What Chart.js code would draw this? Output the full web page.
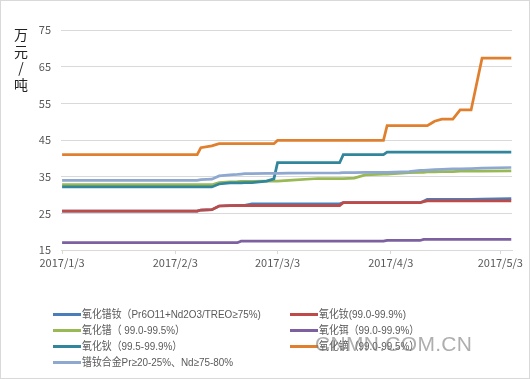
<!DOCTYPE html>
<html>
<head>
<meta charset="utf-8">
<script src="https://cdn.jsdelivr.net/npm/chart.js@4/dist/chart.umd.min.js"></script>
<style>
  html, body { margin: 0; padding: 0; background: #fff; }
  #wrap { position: relative; width: 530px; height: 379px; box-sizing: border-box; border: 1px solid #d9d9d9; overflow: hidden; font-family: "Noto Sans CJK SC", "Noto Sans", sans-serif; }
  #c { position: absolute; left: -1px; top: -1px; }
  #ytitle { position: absolute; left: 11px; top: 25px; width: 18px; font-size: 14px; line-height: 16.5px; color: #222; text-align: center; }
  #legend { position: absolute; left: 0; top: 0; width: 530px; height: 379px; pointer-events: none; }
  .li { position: absolute; height: 16px; font-family: "Liberation Sans", "Noto Sans CJK SC", sans-serif; font-size: 11px; line-height: 16px; color: #595959; white-space: nowrap; }
  .li span.sw { display: inline-block; width: 28px; height: 3px; vertical-align: middle; margin-right: 1px; position: relative; top: -1px; }
  .li span.tx { display: inline-block; transform: scaleX(0.9); transform-origin: 0 50%; }
  #wm { position: absolute; left: 314px; top: 331px; font-family: "Liberation Sans", Arial, sans-serif; font-size: 21px; color: rgba(120,120,120,0.6); letter-spacing: 0.3px; }
</style>
</head>
<body>
<div id="wrap">
  <canvas id="c" width="530" height="379"></canvas>
  <div id="ytitle">万<br>元<br>/<br>吨</div>
  <div id="legend"></div>
  <div id="wm">CNMN.COM.CN</div>
</div>
<script>
// Day offsets from 2017/1/3
const days = [0,37,38,41,43,46,48,49,50,52,56,58,59,62,70,76,77,80,83,88,89,95,98,99,100,101,102,104,107,109,112,115,123];

const tickDays = [0, 31, 59, 90, 120];
const tickLabels = ["2017/1/3", "2017/2/3", "2017/3/3", "2017/4/3", "2017/5/3"];

const seriesNames = [
  "氧化镨钕（Pr6O11+Nd2O3/TREO≥75%)",
  "氧化钕(99.0-99.9%)",
  "氧化镨（ 99.0-99.5%）",
  "氧化铒（99.0-99.9%）",
  "氧化钬（99.5-99.9%）",
  "氧化镝（99.0-99.5%）",
  "镨钕合金Pr≥20-25%、Nd≥75-80%"
];
const seriesColors = ["#4a7ebb", "#be4b48", "#98b954", "#7d60a0", "#31869b", "#e0802f", "#8fa8d0"];

const prNdOxide = [25.6,25.6,25.9,26.0,27.0,27.1,27.2,27.2,27.2,27.6,27.6,27.6,27.6,27.6,27.6,27.6,27.9,27.9,27.9,27.9,27.9,27.9,27.9,28.3,28.8,28.8,28.8,28.8,28.8,28.8,28.8,28.9,29.0];
const ndOxide   = [25.6,25.6,25.9,26.0,27.0,27.1,27.1,27.1,27.1,27.1,27.1,27.1,27.1,27.1,27.1,27.1,27.9,27.9,27.9,27.9,27.9,27.9,27.9,28.2,28.4,28.4,28.4,28.4,28.4,28.4,28.4,28.4,28.4];
const prOxide   = [32.8,32.8,32.8,32.8,33.4,33.6,33.65,33.7,33.7,33.7,33.8,33.8,33.8,34.0,34.5,34.5,34.5,34.6,35.5,35.7,35.7,36.1,36.2,36.2,36.3,36.3,36.3,36.4,36.4,36.5,36.5,36.5,36.6];
const erOxide   = [17.0,17.0,17.0,17.0,17.0,17.0,17.0,17.4,17.4,17.4,17.4,17.4,17.4,17.4,17.4,17.4,17.4,17.4,17.4,17.4,17.6,17.6,17.6,17.9,17.9,17.9,17.9,17.9,17.9,17.9,17.9,17.9,17.9];
const hoOxide   = [32.2,32.2,32.2,32.2,33.0,33.3,33.3,33.3,33.4,33.4,33.8,34.4,38.8,38.8,38.8,38.8,41.0,41.0,41.0,41.0,41.7,41.7,41.7,41.7,41.7,41.7,41.7,41.7,41.7,41.7,41.7,41.7,41.7];
const dyOxide   = [41.0,41.0,42.9,43.4,44.0,44.0,44.0,44.0,44.0,44.0,44.0,44.0,44.9,44.9,44.9,44.9,44.9,44.9,44.9,44.9,48.9,48.9,48.9,48.9,48.9,49.5,50.1,50.7,50.7,53.2,53.2,67.3,67.3];
const prNdAlloy = [34.0,34.0,34.2,34.3,35.2,35.5,35.6,35.7,35.8,35.8,35.9,35.9,35.9,35.95,36.0,36.05,36.1,36.1,36.15,36.2,36.2,36.4,36.7,36.75,36.8,36.85,36.9,37.0,37.1,37.15,37.2,37.3,37.5];

const seriesValues = [prNdOxide, ndOxide, prOxide, erOxide, hoOxide, dyOxide, prNdAlloy];

const datasets = seriesValues.map((vals, i) => ({
  label: seriesNames[i],
  data: vals.map((v, k) => ({ x: days[k], y: v })),
  borderColor: seriesColors[i],
  backgroundColor: seriesColors[i],
  borderWidth: 2.75,
  pointRadius: 0,
  tension: 0,
  fill: false,
  order: seriesValues.length - i
}));

const FONT = '"Noto Sans CJK SC", "Noto Sans", sans-serif';

new Chart(document.getElementById('c'), {
  type: 'line',
  data: { datasets },
  options: {
    responsive: false,
    animation: false,
    devicePixelRatio: 1,
    layout: { padding: { top: 30, right: 18, bottom: 99, left: 0 } },
    plugins: { legend: { display: false }, tooltip: { enabled: false } },
    scales: {
      x: {
        type: 'linear',
        min: -0.3,
        max: 123.2,
        afterBuildTicks: (s) => { s.ticks = tickDays.map(v => ({ value: v })); },
        afterFit: (s) => { s.height = 30; },
        ticks: {
          callback: (v) => { const i = tickDays.indexOf(v); return i >= 0 ? tickLabels[i] : ''; },
          color: '#595959',
          font: { family: FONT, size: 11 },
          maxRotation: 0,
          autoSkip: false,
          padding: 2
        },
        grid: { drawOnChartArea: false, drawTicks: true, tickLength: 4, color: '#d9d9d9' },
        border: { display: true, color: '#d9d9d9', width: 1 }
      },
      y: {
        min: 15,
        max: 75,
        afterBuildTicks: (s) => { s.ticks = [15,25,35,45,55,65,75].map(v => ({ value: v })); },
        afterFit: (s) => { s.width = 61; },
        ticks: { color: '#595959', font: { family: FONT, size: 11 }, padding: 10 },
        grid: { color: '#d9d9d9', drawTicks: false, lineWidth: 1 },
        border: { display: false }
      }
    }
  }
});

// Legend (two columns)
const legend = document.getElementById('legend');
const legendPos = [[52,305],[289,305],[52,321],[289,321],[52,337],[289,337],[52,353]];
seriesNames.forEach((name, i) => {
  const d = document.createElement('div');
  d.className = 'li';
  d.style.left = legendPos[i][0] + 'px';
  d.style.top = legendPos[i][1] + 'px';
  const sw = document.createElement('span');
  sw.className = 'sw';
  sw.style.background = seriesColors[i];
  d.appendChild(sw);
  const tx = document.createElement('span');
  tx.className = 'tx';
  tx.textContent = name;
  d.appendChild(tx);
  legend.appendChild(d);
});
</script>
</body>
</html>
